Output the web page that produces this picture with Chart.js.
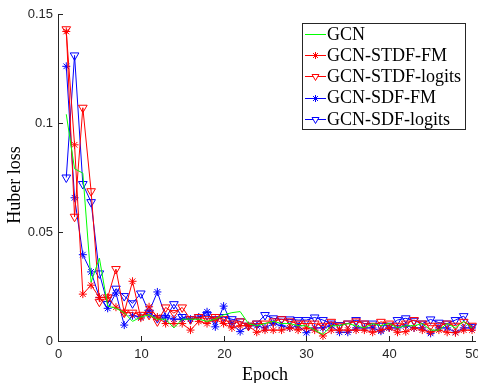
<!DOCTYPE html>
<html>
<head>
<meta charset="utf-8">
<script src="https://cdn.jsdelivr.net/npm/chart.js@4/dist/chart.umd.min.js"></script>
<style>
html,body{margin:0;padding:0;background:#fff;}
canvas{display:block;}
</style>
</head>
<body>
<canvas id="c" width="478" height="383"></canvas>
<script>
const epochs = Array.from({length: 50}, (_, i) => i + 1);
const xTicks = [0, 10, 20, 30, 40, 50];
const yTicks = [0, 0.05, 0.1, 0.15];
const yTickLabels = ["0", "0.05", "0.1", "0.15"];
const seriesNames = ["GCN", "GCN-STDF-FM", "GCN-STDF-logits", "GCN-SDF-FM", "GCN-SDF-logits"];

const gcn = [0.104,0.079,0.077,0.027,0.038,0.016,0.015,0.013,0.009,0.011,
  0.012,0.010,0.010,0.006,0.010,0.010,0.010,0.009,0.010,0.012,
  0.013,0.0135,0.008,0.007,0.008,0.009,0.008,0.008,0.007,0.007,
  0.005,0.003,0.007,0.007,0.008,0.007,0.006,0.008,0.007,0.008,
  0.006,0.007,0.007,0.008,0.005,0.005,0.008,0.006,0.009,0.006];
const stdfFM = [0.142,0.090,0.0215,0.0256,0.020,0.020,0.0155,0.013,0.0274,0.0105,
  0.0157,0.011,0.008,0.008,0.008,0.005,0.009,0.008,0.010,0.008,
  0.006,0.007,0.007,0.004,0.005,0.005,0.005,0.006,0.005,0.006,
  0.005,0.0023,0.005,0.005,0.005,0.005,0.005,0.004,0.005,0.006,
  0.004,0.0043,0.006,0.005,0.004,0.005,0.004,0.0038,0.005,0.005];
const stdfLogits = [0.143,0.057,0.107,0.0687,0.018,0.020,0.033,0.013,0.013,0.012,
  0.012,0.009,0.0154,0.0128,0.0154,0.010,0.011,0.010,0.011,0.010,
  0.008,0.009,0.007,0.008,0.008,0.009,0.010,0.009,0.008,0.008,
  0.008,0.007,0.0088,0.007,0.008,0.009,0.008,0.007,0.0088,0.008,
  0.007,0.008,0.0096,0.008,0.007,0.007,0.008,0.007,0.0088,0.007];
const sdfFM = [0.126,0.0657,0.0396,0.0317,0.020,0.015,0.022,0.0073,0.0116,0.011,
  0.0134,0.0225,0.011,0.010,0.010,0.010,0.011,0.0134,0.0065,0.016,
  0.008,0.0043,0.007,0.007,0.006,0.008,0.007,0.006,0.007,0.0038,
  0.006,0.006,0.007,0.004,0.004,0.006,0.006,0.006,0.0045,0.006,
  0.006,0.007,0.006,0.006,0.0035,0.006,0.006,0.004,0.006,0.006];
const sdfLogits = [0.075,0.131,0.072,0.0637,0.031,0.017,0.024,0.0206,0.0173,0.0218,
  0.013,0.0105,0.0105,0.0169,0.011,0.010,0.011,0.012,0.010,0.011,
  0.010,0.009,0.007,0.008,0.0119,0.0104,0.010,0.0099,0.0096,0.0096,
  0.0108,0.0096,0.008,0.0073,0.008,0.0096,0.008,0.008,0.007,0.007,
  0.0096,0.0104,0.0093,0.008,0.0099,0.0084,0.008,0.0096,0.0114,0.0065];

const seriesValues = [gcn, stdfFM, stdfLogits, sdfFM, sdfLogits];
const seriesColors = ["#00ff00", "#ff0000", "#ff0000", "#0000ff", "#0000ff"];
const seriesMarkers = [false, "star", "triangle", "star", "triangle"];

function pts(vals){ return vals.map((v,i)=>({x: epochs[i], y: v})); }

const datasets = seriesValues.map((vals, k) => ({
  label: seriesNames[k],
  data: pts(vals),
  borderColor: seriesColors[k],
  backgroundColor: "rgba(0,0,0,0)",
  borderWidth: 1,
  pointStyle: seriesMarkers[k] || "circle",
  pointRadius: seriesMarkers[k] ? (seriesMarkers[k] === "triangle" ? 5 : 4) : 0,
  pointRotation: seriesMarkers[k] === "triangle" ? 180 : 0,
  pointBorderColor: seriesColors[k],
  pointBackgroundColor: "rgba(0,0,0,0)",
  pointBorderWidth: 1,
  tension: 0,
  clip: false
}));

const axisColor = "#262626";
const decor = {
  id: "decor",
  afterDraw(chart){
    const ctx = chart.ctx;
    const xs = chart.scales.x, ys = chart.scales.y;
    const a = chart.chartArea;
    ctx.save();
    ctx.strokeStyle = axisColor;
    ctx.lineWidth = 1;
    ctx.beginPath();
    ctx.moveTo(Math.round(a.left)+0.5, a.top);
    ctx.lineTo(Math.round(a.left)+0.5, Math.round(a.bottom)+0.5);
    ctx.lineTo(a.right+4, Math.round(a.bottom)+0.5);
    ctx.stroke();
    ctx.fillStyle = axisColor;
    ctx.font = "13px 'Liberation Sans', Arial, sans-serif";
    ctx.textAlign = "center";
    ctx.textBaseline = "top";
    xTicks.forEach(t => {
      const px = Math.round(xs.getPixelForValue(t)) + 0.5;
      ctx.beginPath();
      ctx.moveTo(px, a.bottom);
      ctx.lineTo(px, a.bottom - 5);
      ctx.stroke();
      ctx.fillText(String(t), px, a.bottom + 7);
    });
    ctx.textAlign = "right";
    ctx.textBaseline = "middle";
    yTicks.forEach((t, i) => {
      const py = Math.round(ys.getPixelForValue(t)) + 0.5;
      ctx.beginPath();
      ctx.moveTo(a.left, py);
      ctx.lineTo(a.left + 5, py);
      ctx.stroke();
      ctx.fillText(yTickLabels[i], a.left - 5, py);
    });
    ctx.fillStyle = "#000";
    ctx.font = "18px 'Liberation Serif', 'Times New Roman', serif";
    ctx.textAlign = "center";
    ctx.textBaseline = "middle";
    ctx.fillText("Epoch", (a.left + a.right)/2, 375);
    ctx.save();
    ctx.translate(15, 185);
    ctx.rotate(-Math.PI/2);
    ctx.fillText("Huber loss", 0, 0);
    ctx.restore();
    // legend
    const lx = 302.5, ly = 23.5, lw = 163, lh = 106;
    ctx.fillStyle = "#fff";
    ctx.fillRect(lx, ly, lw, lh);
    ctx.strokeStyle = "#262626";
    ctx.strokeRect(lx, ly, lw, lh);
    ctx.font = "18px 'Liberation Serif', 'Times New Roman', serif";
    ctx.textAlign = "left";
    ctx.textBaseline = "middle";
    seriesNames.forEach((name, k) => {
      const yy = 34 + k * 21.2;
      ctx.strokeStyle = seriesColors[k];
      ctx.lineWidth = 1;
      ctx.beginPath();
      ctx.moveTo(305, Math.round(yy)+0.5);
      ctx.lineTo(326, Math.round(yy)+0.5);
      ctx.stroke();
      if (seriesMarkers[k]) {
        ctx.strokeStyle = seriesColors[k];
        ctx.fillStyle = "#ffffff";
        Chart.helpers.drawPoint(ctx, {
          pointStyle: seriesMarkers[k],
          radius: seriesMarkers[k] === "triangle" ? 4 : 3.5,
          rotation: seriesMarkers[k] === "triangle" ? 180 : 0,
          borderWidth: 1
        }, 315.5, Math.round(yy)+0.5);
      }
      ctx.fillStyle = "#000";
      ctx.fillText(name, 327, yy + 1);
    });
    ctx.restore();
  }
};

new Chart(document.getElementById("c"), {
  type: "line",
  data: { datasets },
  options: {
    responsive: false,
    animation: false,
    devicePixelRatio: 1,
    layout: { padding: { left: 58, right: 4, top: 14, bottom: 42 } },
    plugins: { legend: { display: false }, tooltip: { enabled: false } },
    scales: {
      x: { type: "linear", min: 0, max: 50, display: false },
      y: { type: "linear", min: 0, max: 0.15, display: false }
    }
  },
  plugins: [decor]
});
</script>
</body>
</html>
